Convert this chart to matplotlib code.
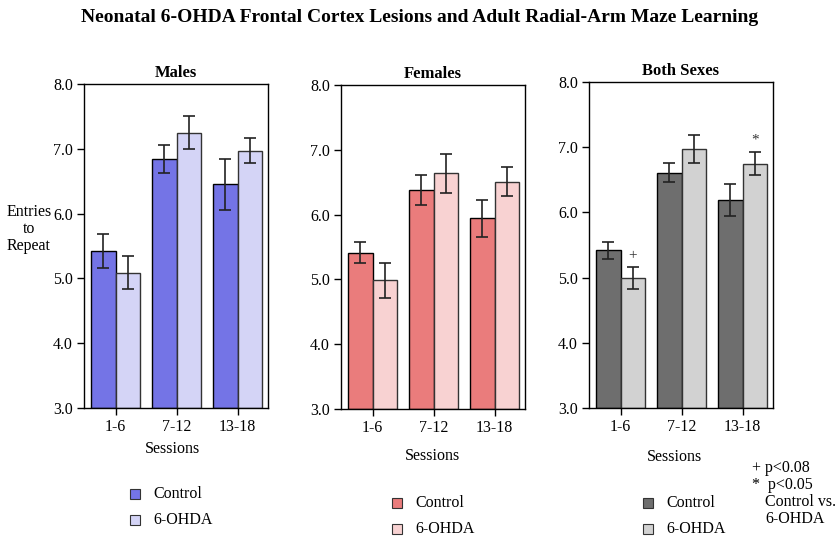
import matplotlib

matplotlib.use("Agg")
import matplotlib.pyplot as plt
import matplotlib.patches as mpatches
import numpy as np

plt.rcParams["font.family"] = ["Liberation Serif", "DejaVu Serif"]

SESSIONS = ["1-6", "7-12", "13-18"]
PANELS = ["Males", "Females", "Both Sexes"]
GROUPS = ["Control", "6-OHDA"]

males_control = [5.42, 6.84, 6.45]
males_control_err = [0.26, 0.22, 0.40]
males_ohda = [5.09, 7.25, 6.97]
males_ohda_err = [0.25, 0.26, 0.19]

females_control = [5.41, 6.38, 5.94]
females_control_err = [0.16, 0.23, 0.28]
females_ohda = [4.99, 6.64, 6.51]
females_ohda_err = [0.27, 0.30, 0.22]

both_control = [5.42, 6.61, 6.19]
both_control_err = [0.13, 0.15, 0.24]
both_ohda = [4.99, 6.97, 6.75]
both_ohda_err = [0.17, 0.21, 0.18]

# significance marks on the 6-OHDA bars of "Both Sexes"
both_marks = ["+", "", "*"]

PANEL_DATA = [
    (males_control, males_control_err, males_ohda, males_ohda_err),
    (females_control, females_control_err, females_ohda, females_ohda_err),
    (both_control, both_control_err, both_ohda, both_ohda_err),
]
COLORS = [
    ("#7474e6", "#d4d4f6"),
    ("#ea7c7c", "#f8d2d2"),
    ("#6e6e6e", "#d2d2d2"),
]

W, H = 839, 543
fig = plt.figure(figsize=(W / 100, H / 100), dpi=100)
fig.patch.set_facecolor("white")


def px_axes(x0, y0, x1, y1):
    return fig.add_axes([x0 / W, 1 - y1 / H, (x1 - x0) / W, (y1 - y0) / H])


boxes = [(84, 84, 268, 408), (341, 85, 525, 409), (589, 82, 773, 408)]
session_pos = [(172, 449), (432, 456), (675, 457)]
legend_pos = [(130, 489), (392, 498), (643, 498)]

bw = 0.4
for i, (box, name) in enumerate(zip(boxes, PANELS)):
    ax = px_axes(*box)
    ctrl, ctrl_e, ohda, ohda_e = PANEL_DATA[i]
    c_ctrl, c_ohda = COLORS[i]
    x = np.arange(len(SESSIONS))
    ax.bar(x - bw / 2, np.array(ctrl) - 3, bw, bottom=3, color=c_ctrl,
           edgecolor="black", linewidth=1.0, zorder=2)
    ax.bar(x + bw / 2, np.array(ohda) - 3, bw, bottom=3, color=c_ohda,
           edgecolor="#333333", linewidth=1.0, zorder=2)
    ax.errorbar(x - bw / 2, ctrl, yerr=ctrl_e, fmt="none", ecolor="#222222",
                elinewidth=1.2, capsize=4, capthick=1.2, zorder=3)
    ax.errorbar(x + bw / 2, ohda, yerr=ohda_e, fmt="none", ecolor="#222222",
                elinewidth=1.2, capsize=4, capthick=1.2, zorder=3)
    if i == 2:
        for xi, v, e, m in zip(x, ohda, ohda_e, both_marks):
            if m:
                ax.text(xi + bw / 2, v + e + 0.08, m, ha="center", va="bottom",
                        fontsize=11, color="#333333")
    ax.set_xlim(-0.52, 2.5)
    ax.set_ylim(3.0, 8.0)
    ax.set_yticks([3, 4, 5, 6, 7, 8])
    ax.set_yticklabels([f"{v:.1f}" for v in range(3, 9)], fontsize=11.5)
    ax.set_xticks(x)
    ax.set_xticklabels(SESSIONS, fontsize=11.5)
    ax.tick_params(direction="out", length=5, width=1.0, pad=3)
    for s in ax.spines.values():
        s.set_linewidth(1.0)
    ax.set_title(name, fontsize=12, fontweight="bold", pad=5)

    sx, sy = session_pos[i]
    fig.text(sx / W, 1 - sy / H, "Sessions", ha="center", va="center", fontsize=11.5)

    lx, ly = legend_pos[i]
    for j, (grp, col) in enumerate(zip(GROUPS, (c_ctrl, c_ohda))):
        yy = ly + j * 26
        fig.patches.append(mpatches.Rectangle(
            (lx / W, 1 - (yy + 10) / H), 10 / W, 10 / H, facecolor=col,
            edgecolor="#333333", linewidth=0.8, transform=fig.transFigure))
        fig.text((lx + 23) / W, 1 - (yy + 5) / H, grp, ha="left", va="center", fontsize=11.5)

fig.text(29 / W, 1 - 229 / H, "Entries\nto\nRepeat", ha="center", va="center",
         fontsize=11.5, linespacing=1.1)

fig.text(752 / W, 1 - 468 / H, "+ p<0.08", ha="left", va="center", fontsize=11.5)
fig.text(752 / W, 1 - 485 / H, "*  p<0.05", ha="left", va="center", fontsize=11.5)
fig.text(765 / W, 1 - 502 / H, "Control vs.", ha="left", va="center", fontsize=11.5)
fig.text(765 / W, 1 - 519 / H, "6-OHDA", ha="left", va="center", fontsize=11.5)

fig.text(0.5, 1 - 18 / H,
         "Neonatal 6-OHDA Frontal Cortex Lesions and Adult Radial-Arm Maze Learning",
         ha="center", va="center", fontsize=14, fontweight="bold")

fig.savefig("out.png", dpi=100)
